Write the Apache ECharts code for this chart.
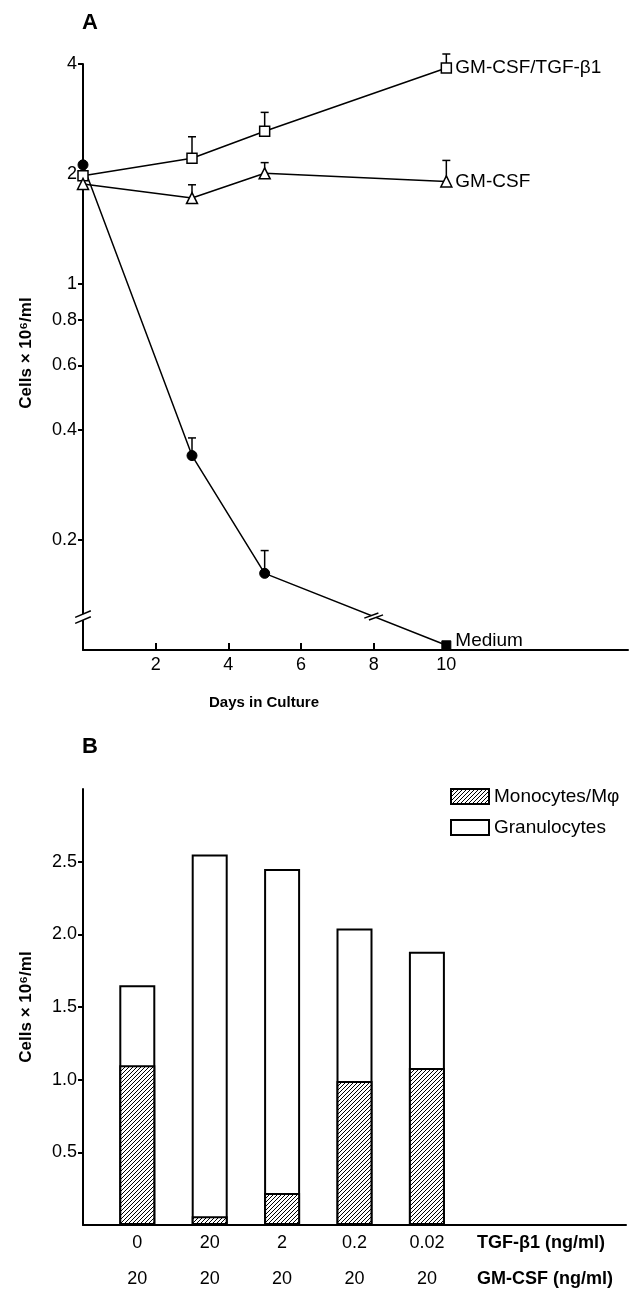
<!DOCTYPE html>
<html>
<head>
<meta charset="utf-8">
<script src="https://cdn.jsdelivr.net/npm/echarts@6/dist/echarts.min.js"></script>
<style>
  html, body { margin: 0; padding: 0; background: #fff; }
  #chart { width: 634px; height: 1289px; }
</style>
</head>
<body>
<div id="chart"></div>
<script>
// panel A: cells x 10^6/ml over days in culture
const days = [0, 3, 5, 10];
const comboCells = [1.98, 2.21, 2.62, 3.9];     // GM-CSF/TGF-b1
const comboErrTop = [null, 2.53, 2.95, 4.26];
const gmCells = [1.88, 1.72, 2.01, 1.91];       // GM-CSF
const gmErrTop = [null, 1.87, 2.15, 2.18];
const mediumCells = [2.12, 0.34, 0.162, 0.103]; // Medium
const mediumErrTop = [null, 0.38, 0.187, null];
const dayTicks = [2, 4, 6, 8, 10];
const cellTicks = [0.2, 0.4, 0.6, 0.8, 1, 2, 4];
const axisBreakValue = 0.123;
const lineBreakDay = 8;

// panel B: monocytes and total (monocytes + granulocytes) per dose
const tgfDoses = ['0', '20', '2', '0.2', '0.02'];
const gmDoses = ['20', '20', '20', '20', '20'];
const barSlots = [1, 2, 3, 4, 5];
const monocytes = [1.10, 0.06, 0.22, 0.99, 1.08];
const totalCells = [1.65, 2.55, 2.45, 2.04, 1.88];
const barTicks = [0.5, 1.0, 1.5, 2.0, 2.5];

const FONT = '"Liberation Sans", Arial, Helvetica, sans-serif';

// hatch pattern for the monocyte bars
function makeHatch() {
  const c = document.createElement('canvas');
  c.width = 4; c.height = 4;
  const g = c.getContext('2d');
  g.fillStyle = '#fff';
  g.fillRect(0, 0, 4, 4);
  g.strokeStyle = '#000';
  g.lineWidth = 1;
  g.beginPath();
  g.moveTo(-1, 5); g.lineTo(5, -1);
  g.moveTo(-1, 1); g.lineTo(1, -1);
  g.moveTo(3, 5); g.lineTo(5, 3);
  g.stroke();
  return c;
}
const hatch = { image: makeHatch(), repeat: 'repeat' };

function errData(vals, tops) {
  return days.map((d, i) => tops[i] == null ? null : [d, vals[i], tops[i]]).filter(Boolean);
}

function renderErr(params, api) {
  const p0 = api.coord([api.value(0), api.value(1)]);
  const p1 = api.coord([api.value(0), api.value(2)]);
  const st = { stroke: '#000', lineWidth: 1.5 };
  return {
    type: 'group',
    children: [
      { type: 'line', shape: { x1: p0[0], y1: p0[1], x2: p1[0], y2: p1[1] }, style: st },
      { type: 'line', shape: { x1: p1[0] - 4, y1: p1[1], x2: p1[0] + 4, y2: p1[1] }, style: st }
    ]
  };
}

// little "//" break marks, on the y axis and on the medium line
function breakMarks(c, d, s, gap, half, lw) {
  const white = { type: 'line', shape: {
      x1: c[0] - d[0] * gap, y1: c[1] - d[1] * gap,
      x2: c[0] + d[0] * gap, y2: c[1] + d[1] * gap },
    style: { stroke: '#fff', lineWidth: lw + 3 } };
  const kids = [white];
  [-1, 1].forEach(k => {
    const m = [c[0] + d[0] * gap * k, c[1] + d[1] * gap * k];
    kids.push({ type: 'line', shape: {
        x1: m[0] - s[0] * half, y1: m[1] - s[1] * half,
        x2: m[0] + s[0] * half, y2: m[1] + s[1] * half },
      style: { stroke: '#000', lineWidth: 1.5 } });
  });
  return kids;
}

function renderBreaks(params, api) {
  const kind = api.value(0);
  if (kind === 0) {
    const c = api.coord([0, axisBreakValue]);
    return { type: 'group', children: breakMarks(c, [0, 1], [0.92, -0.39], 3, 8.5, 2) };
  }
  const p5 = api.coord([days[2], mediumCells[2]]);
  const p10 = api.coord([days[3], mediumCells[3]]);
  const t = (lineBreakDay - days[2]) / (days[3] - days[2]);
  const c = [p5[0] + (p10[0] - p5[0]) * t, p5[1] + (p10[1] - p5[1]) * t];
  const len = Math.hypot(p10[0] - p5[0], p10[1] - p5[1]);
  const d = [(p10[0] - p5[0]) / len, (p10[1] - p5[1]) / len];
  return { type: 'group', children: breakMarks(c, d, [0.94, -0.34], 2.5, 7.5, 1.5) };
}

const lineBase = {
  type: 'line',
  xAxisIndex: 0, yAxisIndex: 0,
  symbolSize: 10,
  lineStyle: { color: '#000', width: 1.5 },
  itemStyle: { color: '#fff', borderColor: '#000', borderWidth: 1.5 },
  z: 3,
  endLabel: {
    show: true, formatter: '{a}', color: '#000',
    fontFamily: FONT, fontSize: 19, distance: 9
  }
};

const tick = { color: '#000', fontSize: 18 };

const chart = echarts.init(document.getElementById('chart'));
chart.setOption({
  animation: false,
  backgroundColor: '#fff',
  textStyle: { fontFamily: FONT, color: '#000' },
  title: [
    { text: 'A', left: 82, top: 12, padding: 0, textStyle: { fontFamily: FONT, fontSize: 22, fontWeight: 'bold', color: '#000' } },
    { text: 'B', left: 82, top: 736, padding: 0, textStyle: { fontFamily: FONT, fontSize: 22, fontWeight: 'bold', color: '#000' } }
  ],
  legend: {
    data: ['Monocytes/Mφ', 'Granulocytes'],
    orient: 'vertical',
    left: 450, top: 787, padding: 0,
    itemWidth: 38, itemHeight: 15, itemGap: 12,
    icon: 'rect',
    textStyle: { fontFamily: FONT, fontSize: 19, color: '#000' }
  },
  grid: [
    { left: 83, top: 64, right: 6, height: 586 },
    { left: 83, top: 789, right: 8, height: 436 }
  ],
  xAxis: [
    {
      type: 'value', gridIndex: 0, min: 0, max: 15,
      axisLine: { lineStyle: { color: '#000', width: 2 } },
      axisTick: { inside: true, length: 7, lineStyle: { color: '#000', width: 2 }, customValues: dayTicks },
      axisLabel: Object.assign({ customValues: dayTicks, margin: 6 }, tick),
      splitLine: { show: false }
    },
    {
      type: 'value', gridIndex: 1, min: 0.25, max: 7.75,
      axisLine: { lineStyle: { color: '#000', width: 2 } },
      axisTick: { show: false },
      axisLabel: Object.assign({ customValues: barSlots, margin: 9,
        formatter: v => tgfDoses[Math.round(v) - 1] }, tick),
      splitLine: { show: false }
    },
    {
      type: 'value', gridIndex: 1, min: 0.25, max: 7.75, offset: 36, position: 'bottom',
      axisLine: { show: false },
      axisTick: { show: false },
      axisLabel: Object.assign({ customValues: barSlots, margin: 9,
        formatter: v => gmDoses[Math.round(v) - 1] }, tick),
      splitLine: { show: false }
    }
  ],
  yAxis: [
    {
      type: 'log', gridIndex: 0, min: 0.1, max: 4, logBase: 10,
      axisLine: { show: true, lineStyle: { color: '#000', width: 2 } },
      axisTick: { show: true, length: 5, lineStyle: { color: '#000', width: 2 }, customValues: cellTicks },
      axisLabel: Object.assign({ customValues: cellTicks, margin: 6,
        formatter: v => String(+v.toFixed(2)) }, tick),
      splitLine: { show: false },
      minorTick: { show: false }
    },
    {
      type: 'value', gridIndex: 1, min: 0, max: 3,
      axisLine: { show: true, lineStyle: { color: '#000', width: 2 } },
      axisTick: { show: true, length: 5, lineStyle: { color: '#000', width: 2 }, customValues: barTicks },
      axisLabel: Object.assign({ customValues: barTicks, margin: 6,
        formatter: v => v.toFixed(1) }, tick),
      splitLine: { show: false }
    }
  ],
  graphic: [
    { type: 'text', x: 26, y: 353, rotation: Math.PI / 2,
      style: { text: 'Cells × 10⁶/ml', font: 'bold 17px ' + FONT, fill: '#000', align: 'center', verticalAlign: 'middle' } },
    { type: 'text', x: 264, y: 703,
      style: { text: 'Days in Culture', font: 'bold 15px ' + FONT, fill: '#000', align: 'center', verticalAlign: 'middle' } },
    { type: 'text', x: 26, y: 1007, rotation: Math.PI / 2,
      style: { text: 'Cells × 10⁶/ml', font: 'bold 17px ' + FONT, fill: '#000', align: 'center', verticalAlign: 'middle' } },
    { type: 'text', x: 477, y: 1243,
      style: { text: 'TGF-β1 (ng/ml)', font: 'bold 18px ' + FONT, fill: '#000', align: 'left', verticalAlign: 'middle' } },
    { type: 'text', x: 477, y: 1279,
      style: { text: 'GM-CSF (ng/ml)', font: 'bold 18px ' + FONT, fill: '#000', align: 'left', verticalAlign: 'middle' } }
  ],
  series: [
    { type: 'custom', name: 'err', xAxisIndex: 0, yAxisIndex: 0, z: 1, clip: false,
      renderItem: renderErr,
      data: errData(comboCells, comboErrTop)
        .concat(errData(gmCells, gmErrTop))
        .concat(errData(mediumCells, mediumErrTop)) },
    Object.assign({}, lineBase, {
      name: 'GM-CSF/TGF-β1', symbol: 'rect',
      data: days.map((d, i) => [d, comboCells[i]])
    }),
    Object.assign({}, lineBase, {
      name: 'GM-CSF', symbol: 'triangle', symbolSize: 11,
      data: days.map((d, i) => [d, gmCells[i]])
    }),
    Object.assign({}, lineBase, {
      name: 'Medium', symbol: 'circle',
      itemStyle: { color: '#000', borderColor: '#000', borderWidth: 1 },
      endLabel: Object.assign({}, lineBase.endLabel, { offset: [0, -5] }),
      data: days.map((d, i) => i === days.length - 1
        ? { value: [d, mediumCells[i]], symbol: 'rect', symbolSize: 9 }
        : [d, mediumCells[i]])
    }),
    { type: 'custom', name: 'breaks', xAxisIndex: 0, yAxisIndex: 0, z: 10, clip: false,
      renderItem: renderBreaks, data: [[0], [1]] },

    // white bar = whole column (granulocytes on top), hatched bar laid over its lower part
    { type: 'bar', name: 'Granulocytes', xAxisIndex: 1, yAxisIndex: 1,
      barWidth: 36, barGap: '-100%', z: 2,
      itemStyle: { color: '#fff', borderColor: '#000', borderWidth: 2 },
      data: barSlots.map((x, i) => [x, totalCells[i]]) },
    { type: 'bar', name: 'Monocytes/Mφ', xAxisIndex: 1, yAxisIndex: 1,
      barWidth: 36, barGap: '-100%', z: 3,
      itemStyle: { color: hatch, borderColor: '#000', borderWidth: 2 },
      data: barSlots.map((x, i) => [x, monocytes[i]]) }
  ]
});
</script>
</body>
</html>
